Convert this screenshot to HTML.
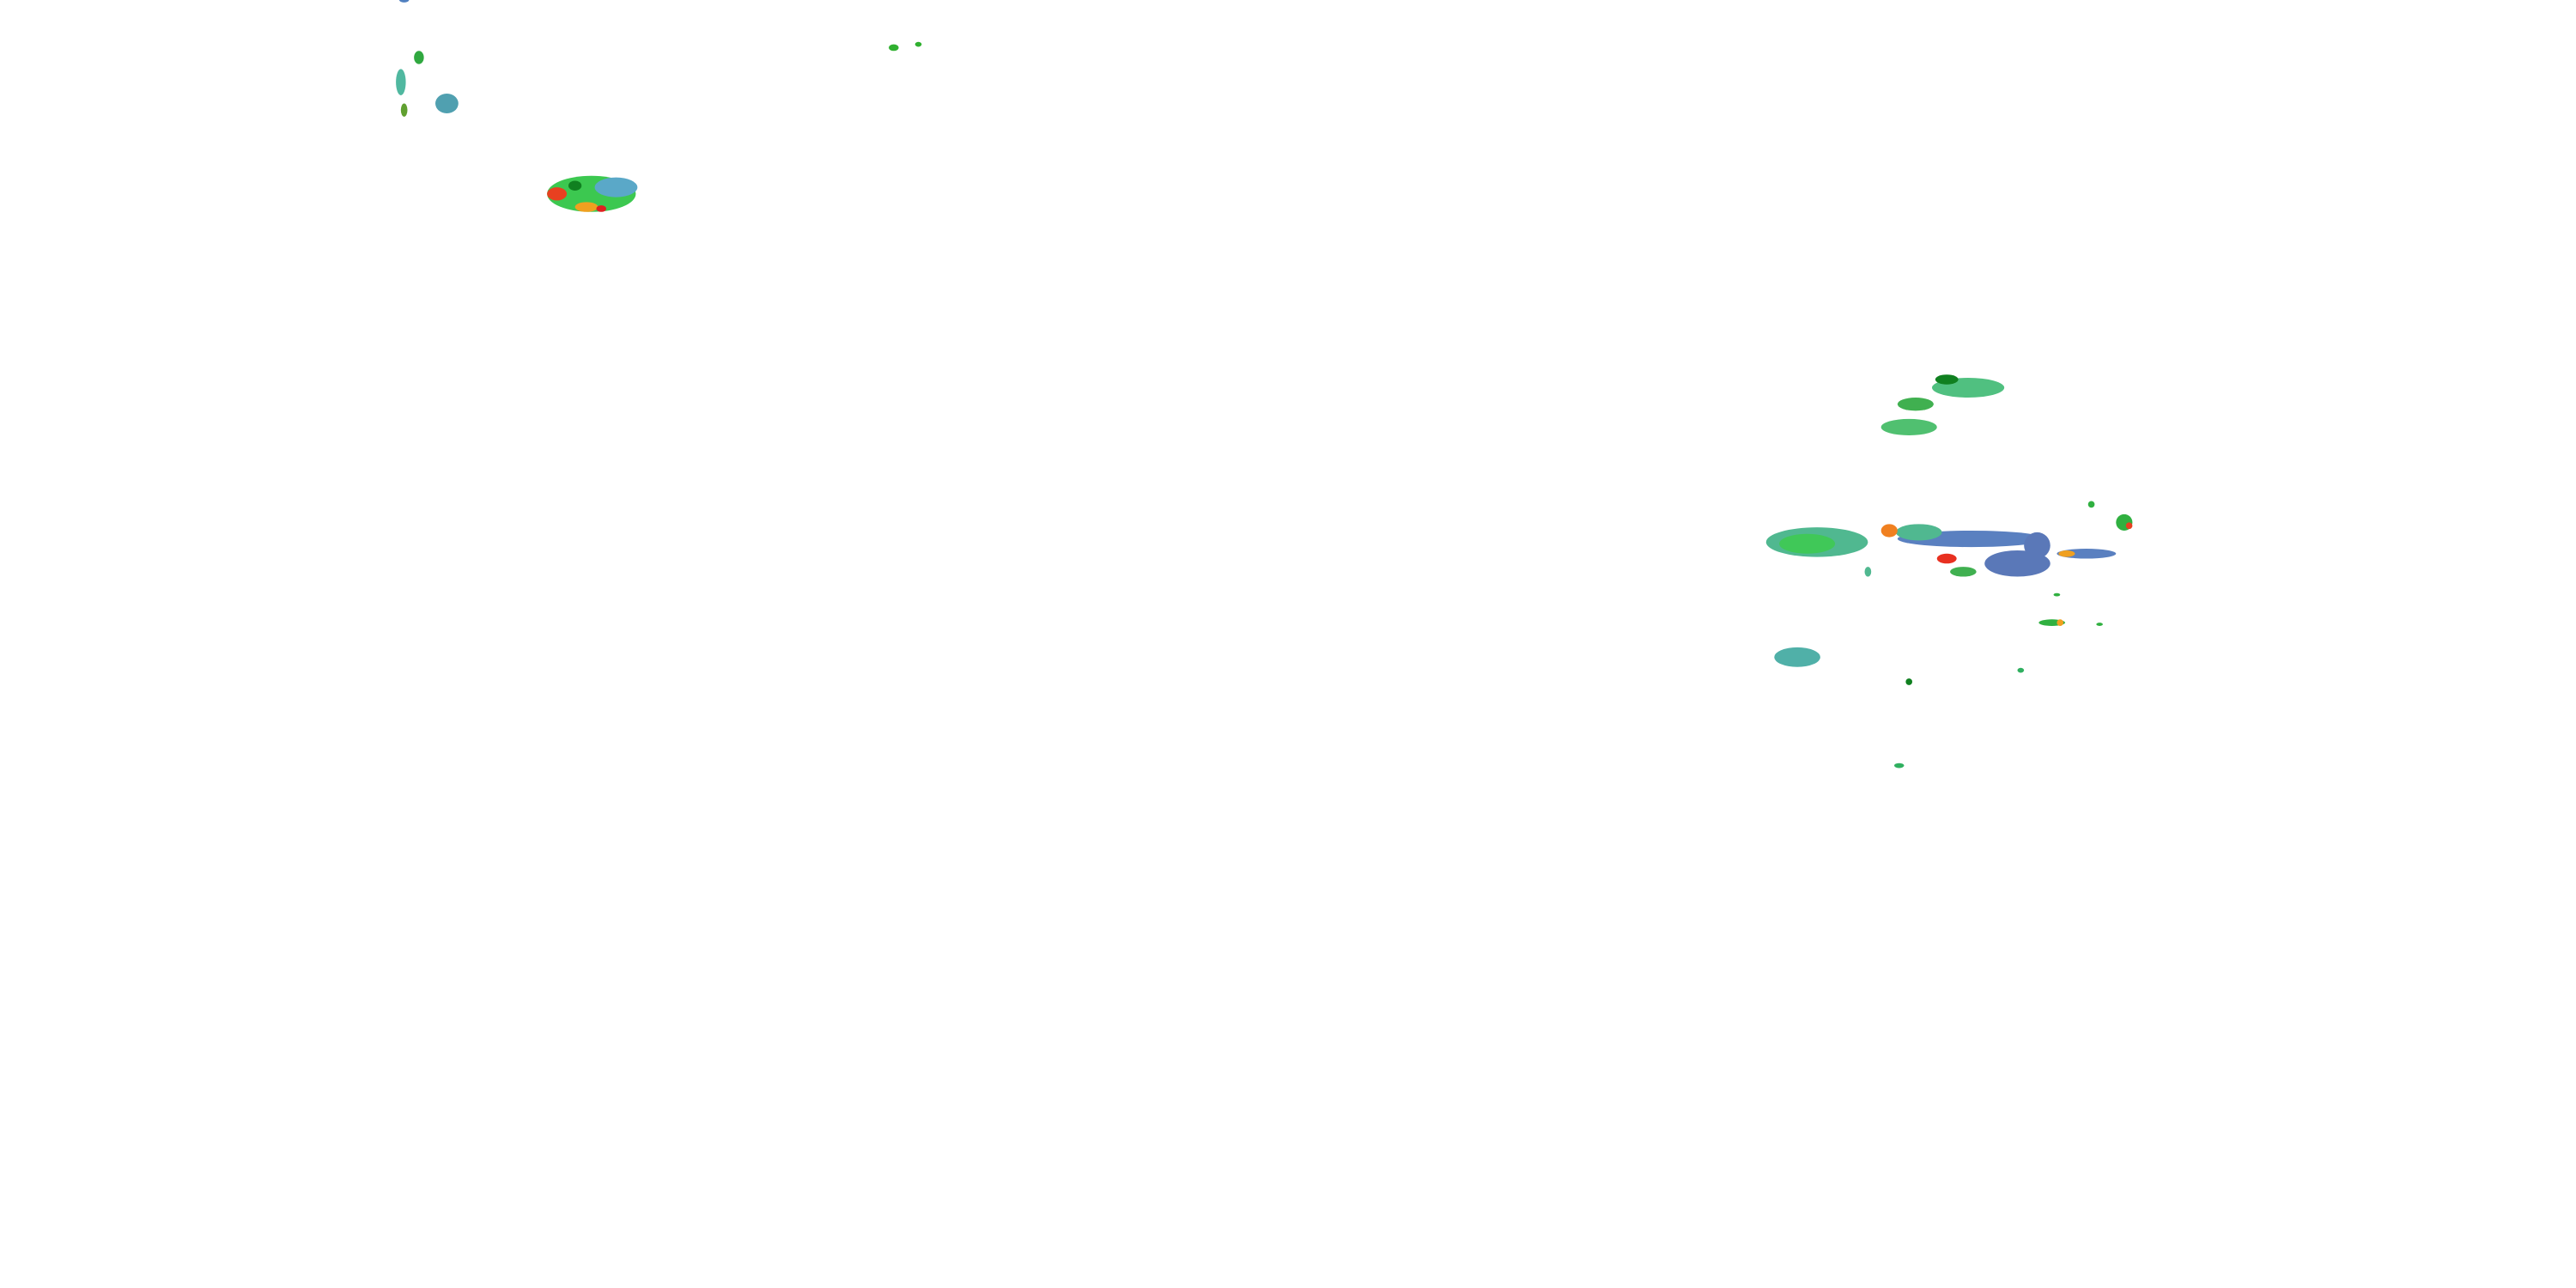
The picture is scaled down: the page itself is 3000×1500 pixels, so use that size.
<!DOCTYPE html>
<html><head><style>html,body{margin:0;padding:0;background:#fff;width:3000px;height:1500px;overflow:hidden}</style></head>
<body>
<svg width="3000" height="1500" viewBox="0 0 1568 784" preserveAspectRatio="none" xmlns="http://www.w3.org/2000/svg">
<g>
<!-- top left -->
<ellipse cx="360" cy="118" rx="27" ry="11" fill="#3cc850"/>
<ellipse cx="375" cy="114" rx="13" ry="6" fill="#5aa8c8"/>
<ellipse cx="339" cy="118" rx="6" ry="4" fill="#e84020"/>
<ellipse cx="357" cy="126" rx="7" ry="3" fill="#f0a020"/>
<ellipse cx="366" cy="127" rx="3" ry="2" fill="#e02020"/>
<ellipse cx="350" cy="113" rx="4" ry="3" fill="#108020"/>
<ellipse cx="244" cy="50" rx="3" ry="8" fill="#50b8a0"/>
<ellipse cx="255" cy="35" rx="3" ry="4" fill="#30a840"/>
<ellipse cx="272" cy="63" rx="7" ry="6" fill="#50a0b0"/>
<ellipse cx="246" cy="67" rx="2" ry="4" fill="#60a030"/>
<ellipse cx="544" cy="29" rx="3" ry="2" fill="#30b030"/>
<ellipse cx="559" cy="27" rx="2" ry="1.5" fill="#30b030"/>
<ellipse cx="246" cy="0" rx="3" ry="1.5" fill="#5080c0"/>
<!-- right cluster -->
<ellipse cx="1198" cy="236" rx="22" ry="6" fill="#50c080"/>
<ellipse cx="1185" cy="231" rx="7" ry="3" fill="#108020"/>
<ellipse cx="1166" cy="246" rx="11" ry="4" fill="#40b050"/>
<ellipse cx="1162" cy="260" rx="17" ry="5" fill="#50c070"/>
<ellipse cx="1106" cy="330" rx="31" ry="9" fill="#50b890"/>
<ellipse cx="1100" cy="331" rx="17" ry="6" fill="#40c858"/>
<ellipse cx="1200" cy="328" rx="45" ry="5" fill="#5a80c0"/>
<ellipse cx="1168" cy="324" rx="14" ry="5" fill="#50b890"/>
<ellipse cx="1228" cy="343" rx="20" ry="8" fill="#5a78b8"/>
<ellipse cx="1240" cy="332" rx="8" ry="8" fill="#5a78b8"/>
<ellipse cx="1150" cy="323" rx="5" ry="4" fill="#f08020"/>
<ellipse cx="1185" cy="340" rx="6" ry="3" fill="#e83020"/>
<ellipse cx="1195" cy="348" rx="8" ry="3" fill="#40b050"/>
<ellipse cx="1270" cy="337" rx="18" ry="3" fill="#5a80c0"/>
<ellipse cx="1258" cy="337" rx="5" ry="2" fill="#f0a020"/>
<ellipse cx="1293" cy="318" rx="5" ry="5" fill="#30b040"/>
<ellipse cx="1296" cy="320" rx="2" ry="2" fill="#e84020"/>
<ellipse cx="1273" cy="307" rx="2" ry="2" fill="#30b040"/>
<ellipse cx="1137" cy="348" rx="2" ry="3" fill="#50b890"/>
<ellipse cx="1094" cy="400" rx="14" ry="6" fill="#50b0a8"/>
<ellipse cx="1249" cy="379" rx="8" ry="2" fill="#30b040"/>
<ellipse cx="1254" cy="379" rx="2" ry="2" fill="#f0a020"/>
<ellipse cx="1252" cy="362" rx="2" ry="1" fill="#30b040"/>
<ellipse cx="1278" cy="380" rx="2" ry="1" fill="#30b040"/>
<ellipse cx="1162" cy="415" rx="2" ry="2" fill="#108020"/>
<ellipse cx="1156" cy="466" rx="3" ry="1.5" fill="#30b060"/>
<ellipse cx="1230" cy="408" rx="2" ry="1.5" fill="#30b060"/>
</g>
</svg>
</body></html>
